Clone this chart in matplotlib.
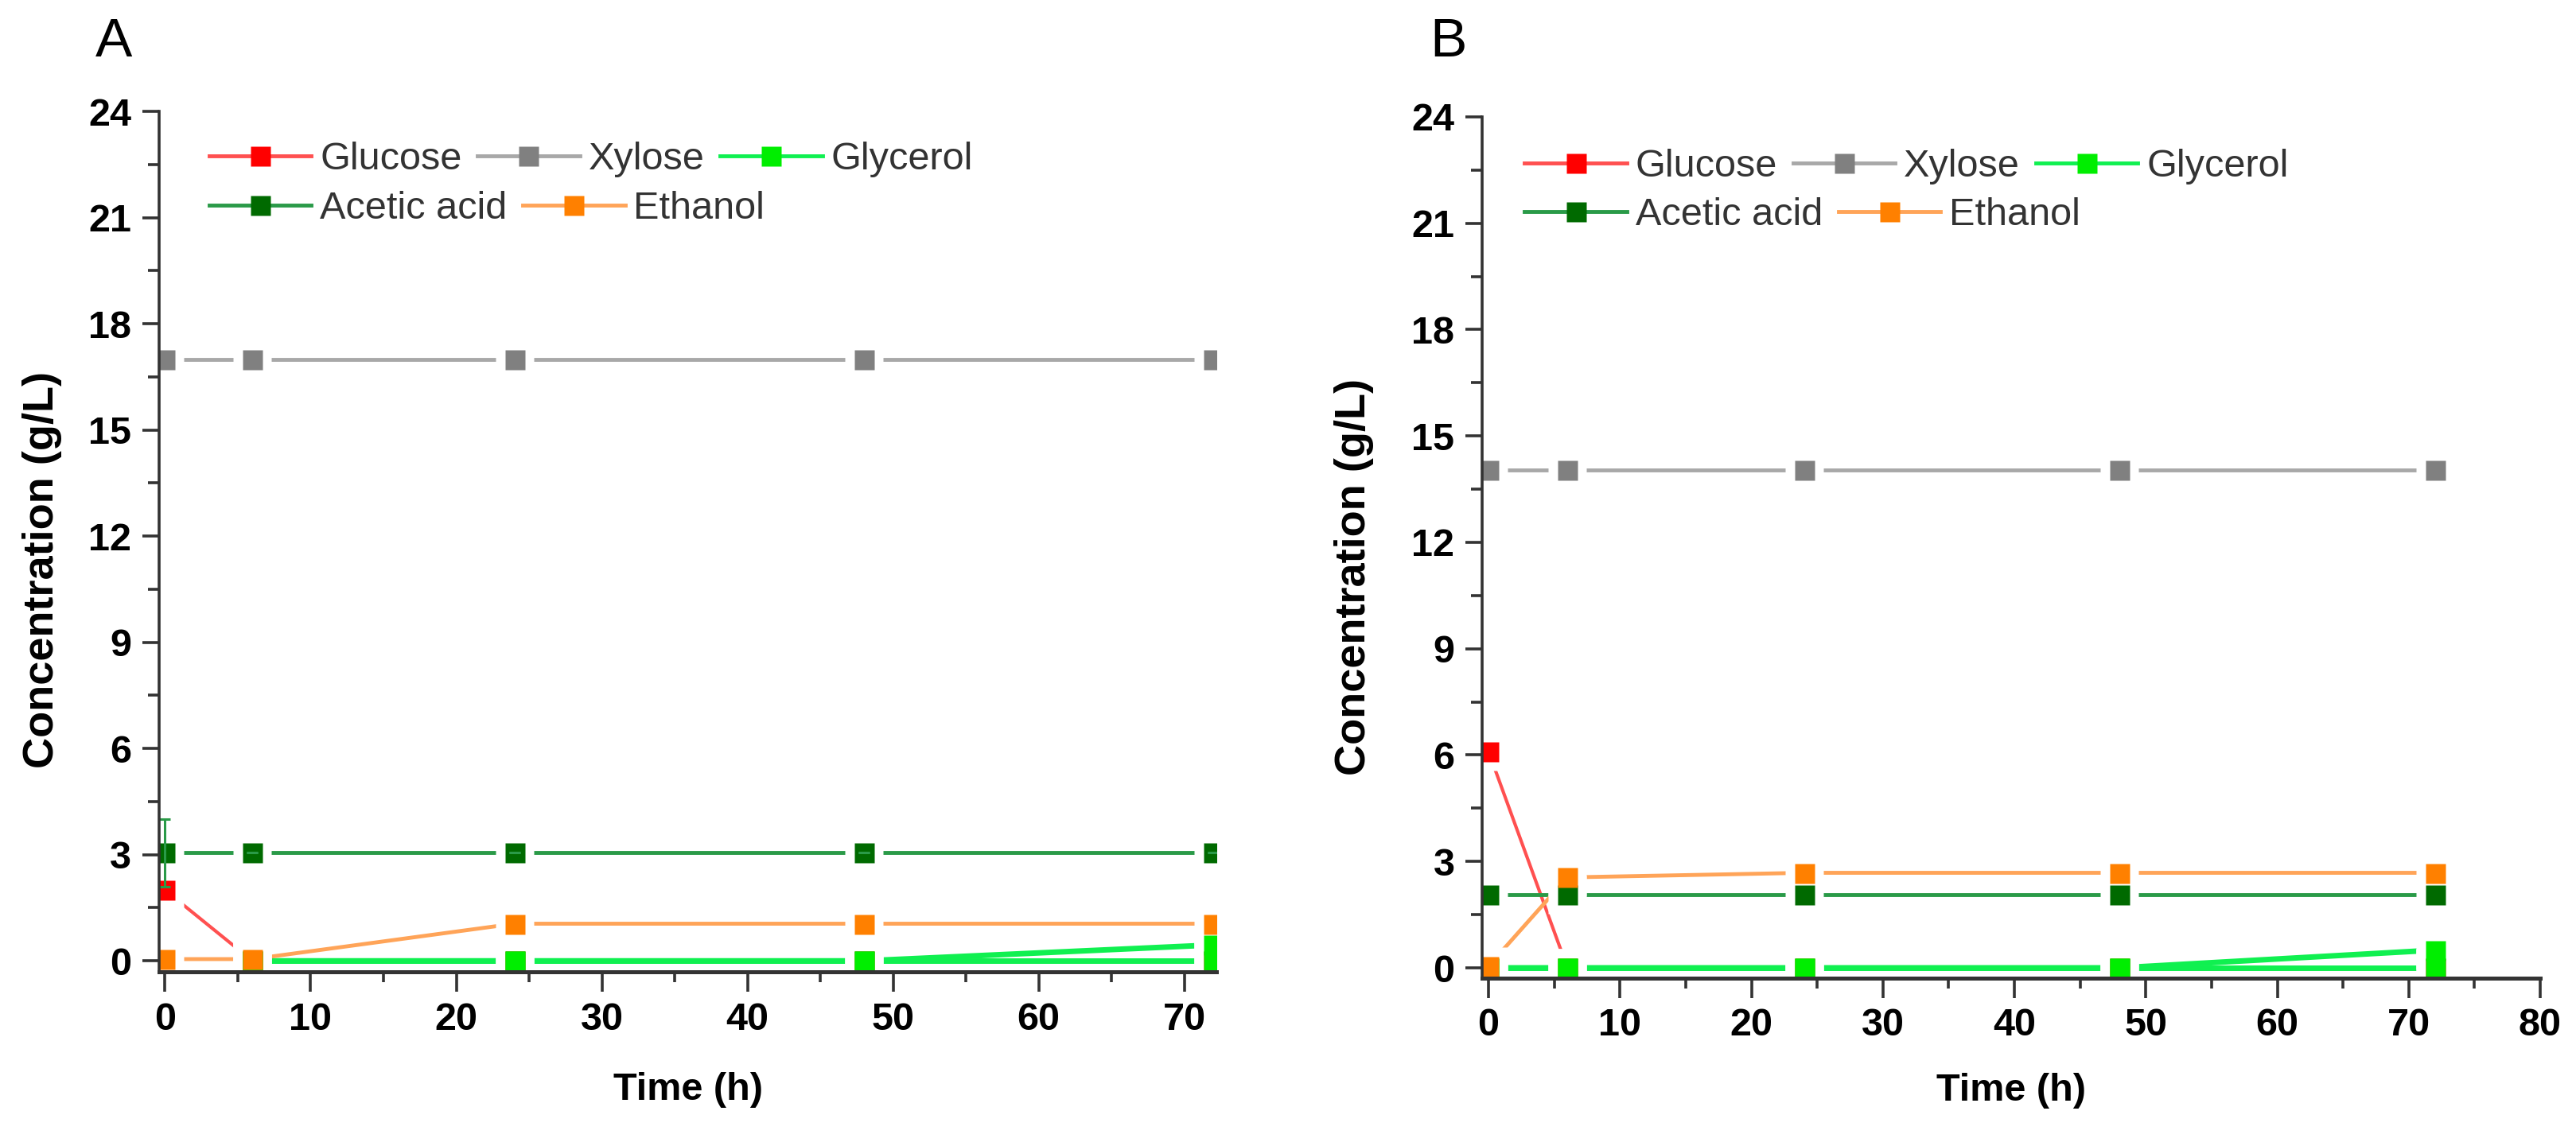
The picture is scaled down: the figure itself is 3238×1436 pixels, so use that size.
import numpy as np
import matplotlib
matplotlib.use('Agg')
import matplotlib.pyplot as plt
from matplotlib.ticker import MultipleLocator

plt.rcParams['font.family'] = ['Liberation Sans', 'DejaVu Sans']

# Sampling times (h)
time = [0, 6, 24, 48, 72]
nan = np.nan

# Panel A concentrations (g/L)
glucose_A = [2.0, 0.0, 0.0, 0.0, 0.0]
xylose_A = [17.0, 17.0, 17.0, 17.0, 17.0]
glycerol_A = [nan, 0.0, 0.0, 0.0, 0.45]
glycerol_A_base = [nan, 0.0, 0.0, 0.0, 0.0]
acetic_A = [3.05, 3.05, 3.05, 3.05, 3.05]
acetic_A_err = [0.95, 0, 0, 0, 0]
ethanol_A = [0.05, 0.05, 1.05, 1.05, 1.05]

# Panel B concentrations (g/L)
glucose_B = [6.1, 0.0, 0.0, 0.0, 0.0]
xylose_B = [14.05, 14.05, 14.05, 14.05, 14.05]
glycerol_B = [0.0, 0.0, 0.0, 0.0, 0.5]
glycerol_B_base = [0.0, 0.0, 0.0, 0.0, 0.0]
acetic_B = [2.07, 2.07, 2.07, 2.07, 2.07]
ethanol_B = [0.05, 2.55, 2.68, 2.68, 2.68]

# marker colour, line colour
styles = {
    'Glucose': ('#ff0000', '#ff5050'),
    'Xylose': ('#808080', '#a8a8a8'),
    'Glycerol': ('#00ee00', '#10f050'),
    'Acetic acid': ('#006a00', '#2a9a48'),
    'Ethanol': ('#ff8000', '#ffa458'),
}

MS = 18      # marker size (pt)
HALO = 34    # white gap around markers (pt)
AX_COL = '#333333'


def draw_panel(ax, series, err=None, xmax=72.2, xmin=-0.4, ymin=-0.31):
    handles = {}
    # lines
    for name, y, lw in series:
        mc, lc = styles[name]
        ax.plot(time, y, '-', color=lc, lw=lw, zorder=2, solid_capstyle='butt')
    # white gaps around points
    for name, y, lw in series:
        ax.plot(time, y, 's', ms=HALO, color='white', mec='none', zorder=3)
    # markers
    for name, y, lw in series:
        mc, lc = styles[name]
        ax.plot(time, y, 's', ms=MS, color=mc, mec='none', zorder=4)
        if name not in handles:
            handles[name] = plt.Line2D([], [], color=lc, lw=3.5, marker='s',
                                       ms=MS, mfc=mc, mec='none')
    if err is not None:
        name, y, e = err
        ax.errorbar(time, y, yerr=e, fmt='none', ecolor=styles[name][1],
                    elinewidth=2.2, capsize=5, capthick=2.2, zorder=5)

    ax.set_xlim(xmin, xmax)
    ax.set_ylim(ymin, 24)
    ax.yaxis.set_major_locator(MultipleLocator(3))
    ax.yaxis.set_minor_locator(MultipleLocator(1.5))
    ax.xaxis.set_major_locator(MultipleLocator(10))
    ax.xaxis.set_minor_locator(MultipleLocator(5))
    for s in ['top', 'right']:
        ax.spines[s].set_visible(False)
    ax.spines['left'].set_linewidth(2.6)
    ax.spines['bottom'].set_linewidth(3.6)
    for s in ['left', 'bottom']:
        ax.spines[s].set_color(AX_COL)
        ax.spines[s].set_zorder(6)
    ax.xaxis.set_zorder(6)
    ax.yaxis.set_zorder(6)
    ax.tick_params(axis='x', which='major', direction='out', length=18, width=2.6,
                   color=AX_COL, pad=9, labelsize=35)
    ax.tick_params(axis='x', which='minor', direction='out', length=9, width=2.6,
                   color=AX_COL)
    ax.tick_params(axis='y', which='major', direction='out', length=15, width=2.6,
                   color=AX_COL, pad=10, labelsize=35)
    ax.tick_params(axis='y', which='minor', direction='out', length=10, width=2.6,
                   color=AX_COL)
    for lab in ax.get_xticklabels() + ax.get_yticklabels():
        lab.set_fontweight('bold')

    ax.set_ylabel('Concentration (g/L)', fontsize=39, fontweight='bold', va='center')
    ax.set_xlabel('Time (h)', fontsize=35, fontweight='bold', va='center')

    row1 = [handles['Glucose'], handles['Xylose'], handles['Glycerol']]
    row2 = [handles['Acetic acid'], handles['Ethanol']]
    return row1, row2


def add_legends(ax, row1, row2, x0, y1, y2):
    kw = dict(frameon=False, fontsize=35, handlelength=2.65, handletextpad=0.22,
              columnspacing=0.4, borderpad=0, borderaxespad=0, loc='center left',
              labelcolor='#333333')
    leg1 = ax.legend(row1, ['Glucose', 'Xylose', 'Glycerol'], ncol=3,
                     bbox_to_anchor=(x0, y1), **kw)
    ax.add_artist(leg1)
    ax.legend(row2, ['Acetic acid', 'Ethanol'], ncol=2,
              bbox_to_anchor=(x0, y2), **kw)


fig = plt.figure(figsize=(32.38, 14.36), dpi=100)
axA = fig.add_axes([0.0618, 0.149, 0.4104, 0.7535])
axB = fig.add_axes([0.5754, 0.1435, 0.4107, 0.7542])

# drawing order: later entries sit on top
seriesA = [
    ('Xylose', xylose_A, 3.5),
    ('Glucose', glucose_A, 3.0),
    ('Acetic acid', acetic_A, 3.5),
    ('Glycerol', glycerol_A_base, 5.0),
    ('Glycerol', glycerol_A, 5.0),
    ('Ethanol', ethanol_A, 3.5),
]
seriesB = [
    ('Xylose', xylose_B, 3.5),
    ('Glucose', glucose_B, 3.0),
    ('Acetic acid', acetic_B, 3.5),
    ('Glycerol', glycerol_B_base, 5.0),
    ('Glycerol', glycerol_B, 5.0),
    ('Ethanol', ethanol_B, 3.5),
]

r1, r2 = draw_panel(axA, seriesA, err=('Acetic acid', acetic_A, acetic_A_err),
                    xmax=72.2, xmin=-0.4, ymin=-0.31)
add_legends(axA, r1, r2, 0.047, 0.9445, 0.887)
axA.yaxis.set_label_coords(-0.111, 0.467)
axA.xaxis.set_label_coords(0.5, -0.137)

r1, r2 = draw_panel(axB, seriesB, xmax=80, xmin=-0.48, ymin=-0.29)
add_legends(axB, r1, r2, 0.04, 0.942, 0.8855)
axB.yaxis.set_label_coords(-0.121, 0.466)
axB.xaxis.set_label_coords(0.5, -0.131)

fig.text(143 / 3238, 1 - 53 / 1436, 'A', fontsize=50, ha='center', va='center')
fig.text(1820 / 3238, 1 - 53 / 1436, 'B', fontsize=50, ha='center', va='center')

fig.savefig('out.png', dpi=100)
